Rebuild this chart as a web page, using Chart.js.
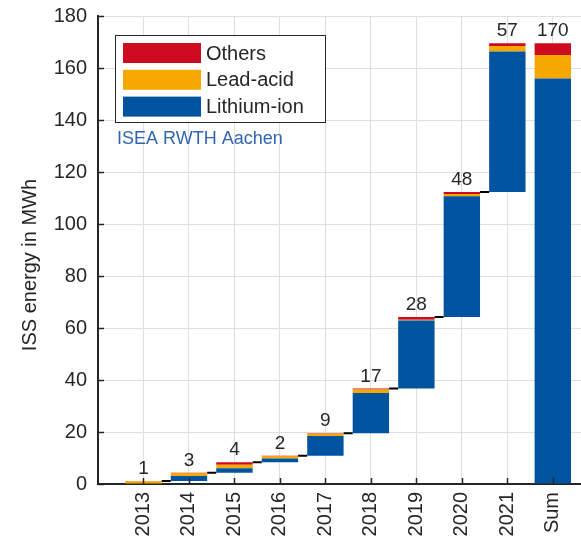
<!DOCTYPE html>
<html>
<head>
<meta charset="utf-8">
<title>ISS energy</title>
<script src="https://cdn.jsdelivr.net/npm/chart.js@4/dist/chart.umd.min.js"></script>
<style>
  body { margin: 0; background: #fff; }
</style>
</head>
<body>
<canvas id="chart" width="581" height="538"></canvas>
<script>
// values, MWh per year (last entry is the Sum bar)
const years = ['2013', '2014', '2015', '2016', '2017', '2018', '2019', '2020', '2021', 'Sum'];
const lithiumIon = [0, 1.9, 1.8, 1.4, 7.6, 15.5, 26.2, 46.5, 54.0, 156];
const leadAcid = [1.1, 1.1, 1.3, 1.0, 0.8, 1.3, 0.3, 0.8, 2.2, 9];
const others = [0.1, 0.1, 1.0, 0.1, 0.2, 0.4, 1.0, 0.8, 1.0, 4.5];
const barLabels = ['1', '3', '4', '2', '9', '17', '28', '48', '57', '170'];

const RED = '#cd0a1f';
const ORANGE = '#f6a800';
const BLUE = '#00549f';
const INK = '#262626';
const FONT = "'Liberation Sans', Arial, sans-serif";

// waterfall: each year starts where the previous one ended, Sum starts at 0
const totals = years.map((_, i) => lithiumIon[i] + leadAcid[i] + others[i]);
const bases = [];
years.forEach((y, i) => {
  if (y === 'Sum' || i === 0) bases.push(0);
  else bases.push(bases[i - 1] + totals[i - 1]);
});

const liData = years.map((_, i) => ({ x: i, y: [bases[i], bases[i] + lithiumIon[i]] }));
const leadData = years.map((_, i) => ({ x: i, y: [bases[i] + lithiumIon[i], bases[i] + lithiumIon[i] + leadAcid[i]] }));
const otherData = years.map((_, i) => ({ x: i, y: [bases[i] + lithiumIon[i] + leadAcid[i], bases[i] + totals[i]] }));

// black step connectors between consecutive year bars
const connectors = [];
for (let i = 0; i < years.length - 2; i++) {
  const level = bases[i] + totals[i];
  connectors.push({ x: i + 0.4, y: level }, { x: i + 0.6, y: level }, { x: i + 0.5, y: null });
}

const extras = {
  id: 'extras',
  afterDraw(chart) {
    const { ctx, chartArea: area, scales: { x, y } } = chart;
    ctx.save();

    // inward tick marks
    ctx.strokeStyle = INK;
    ctx.lineWidth = 1.5;
    y.ticks.forEach(t => {
      const py = Math.round(y.getPixelForValue(t.value)) + 0.5;
      ctx.beginPath(); ctx.moveTo(area.left, py); ctx.lineTo(area.left + 6, py); ctx.stroke();
    });
    x.ticks.forEach(t => {
      const px = Math.round(x.getPixelForValue(t.value)) + 0.5;
      ctx.beginPath(); ctx.moveTo(px, area.bottom); ctx.lineTo(px, area.bottom - 6); ctx.stroke();
    });

    // value labels above the bars
    ctx.fillStyle = INK;
    ctx.font = '19px ' + FONT;
    ctx.textAlign = 'center';
    ctx.textBaseline = 'alphabetic';
    barLabels.forEach((lab, i) => {
      ctx.fillText(lab, x.getPixelForValue(i), y.getPixelForValue(bases[i] + totals[i]) - 7);
    });

    // legend box, top entry = last stacked dataset
    const bx = 115, by = 35, bw = 210, bh = 87;
    ctx.fillStyle = '#fff';
    ctx.fillRect(bx, by, bw, bh);
    ctx.strokeStyle = INK;
    ctx.lineWidth = 1;
    ctx.strokeRect(bx + 0.5, by + 0.5, bw, bh);
    const items = chart.data.datasets.filter(d => d.type !== 'line').slice().reverse();
    ctx.font = '20px ' + FONT;
    ctx.textAlign = 'left';
    ctx.textBaseline = 'middle';
    items.forEach((d, k) => {
      const cy = 53 + k * 26.8;
      ctx.fillStyle = d.backgroundColor;
      ctx.fillRect(123, cy - 10, 78, 20);
      ctx.fillStyle = INK;
      ctx.fillText(d.label, 206, cy + 1);
    });

    ctx.fillStyle = '#3165b0';
    ctx.font = '18px ' + FONT;
    ctx.fillText('ISEA RWTH Aachen', 117, 139);

    // y axis title
    ctx.translate(30, 265);
    ctx.rotate(-Math.PI / 2);
    ctx.textAlign = 'center';
    ctx.fillStyle = INK;
    ctx.font = '20px ' + FONT;
    ctx.fillText('ISS energy in MWh', 0, 0);
    ctx.restore();
  }
};

Chart.defaults.font.family = FONT;
Chart.defaults.color = INK;

new Chart(document.getElementById('chart'), {
  type: 'bar',
  data: {
    datasets: [
      { label: 'Lithium-ion', data: liData, backgroundColor: BLUE, grouped: false, borderWidth: 0 },
      { label: 'Lead-acid', data: leadData, backgroundColor: ORANGE, grouped: false, borderWidth: 0 },
      { label: 'Others', data: otherData, backgroundColor: RED, grouped: false, borderWidth: 0 },
      {
        type: 'line', label: 'step', data: connectors, borderColor: '#000', borderWidth: 2,
        pointRadius: 0, spanGaps: false, fill: false
      }
    ]
  },
  options: {
    responsive: false,
    animation: false,
    barPercentage: 0.8,
    categoryPercentage: 1,
    layout: { padding: { top: 16, right: 0, left: 0, bottom: 0 } },
    plugins: { legend: { display: false }, tooltip: { enabled: false } },
    scales: {
      x: {
        type: 'linear',
        min: -1,
        max: 9.62,
        offset: false,
        afterBuildTicks: s => { s.ticks = years.map((_, i) => ({ value: i })); },
        afterFit: s => { s.height = 54; s.paddingLeft = 0; s.paddingRight = 0; },
        grid: { offset: false, color: '#dfdfdf', drawTicks: false },
        border: { color: INK, width: 2 },
        ticks: {
          callback: v => years[v] ?? '',
          minRotation: 90,
          maxRotation: 90,
          padding: 8,
          font: { size: 20 },
          color: INK
        }
      },
      y: {
        min: 0,
        max: 180,
        afterFit: s => { s.width = 98; s.paddingTop = 0; s.paddingBottom = 0; },
        grid: { color: '#dfdfdf', drawTicks: false },
        border: { color: INK, width: 2 },
        ticks: { stepSize: 20, padding: 11, font: { size: 20 }, color: INK }
      }
    }
  },
  plugins: [extras]
});
</script>
</body>
</html>
